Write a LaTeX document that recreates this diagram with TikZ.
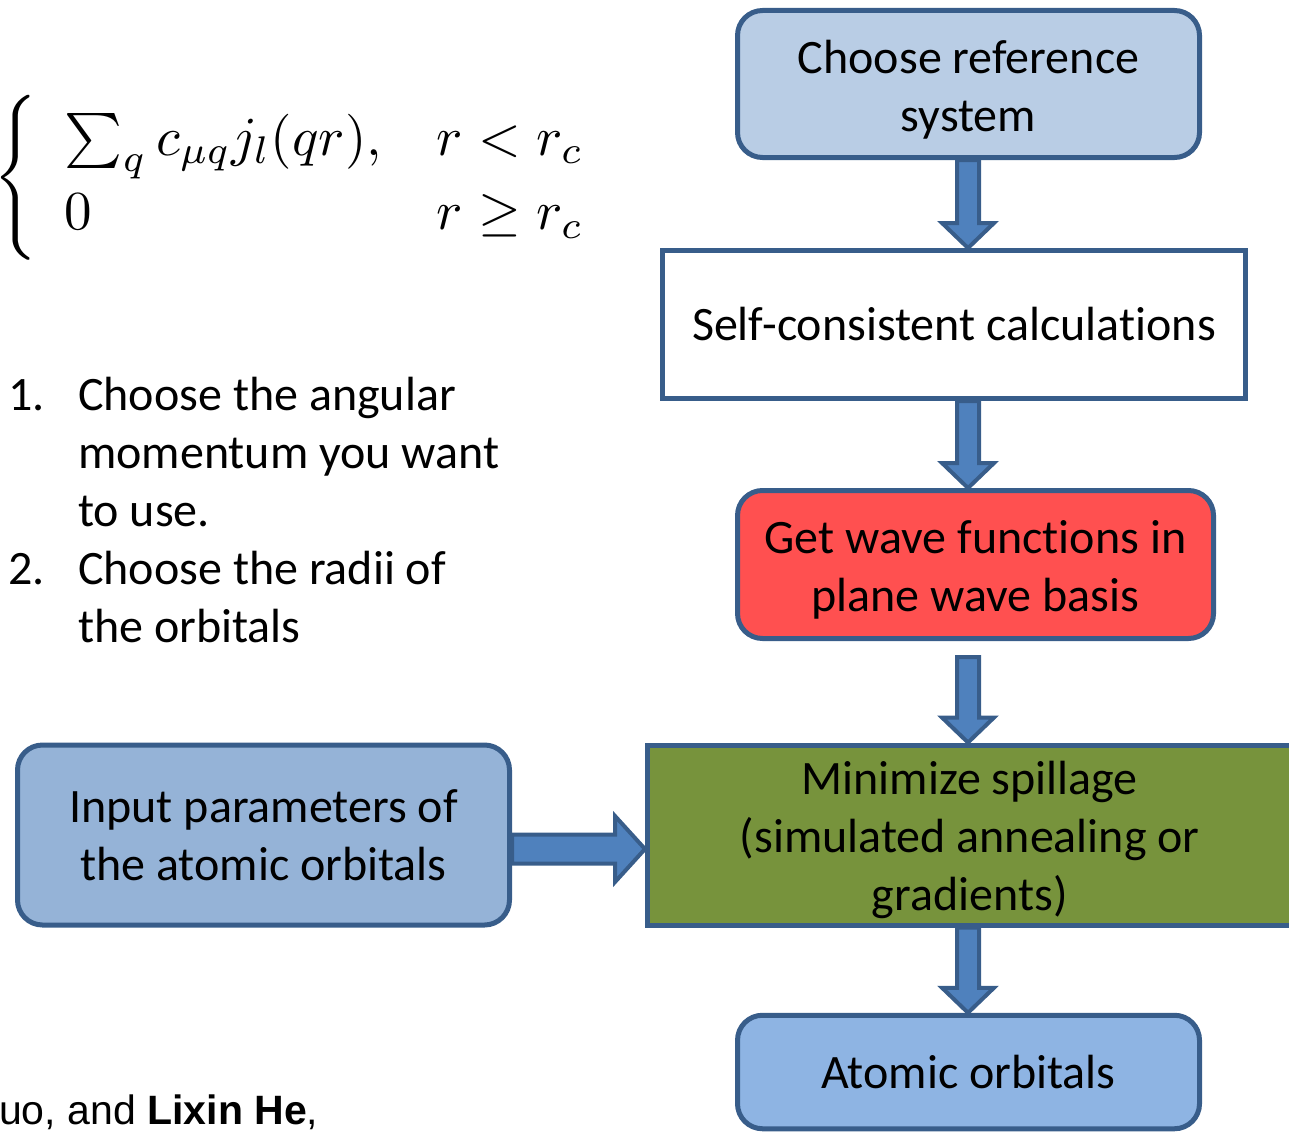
\documentclass[tikz,border=0pt]{standalone}
\definecolor{BleuCadre}{HTML}{385D8A}
\definecolor{BleuFleche}{HTML}{4F81BD}
\definecolor{BleuPale}{HTML}{B9CDE5}
\definecolor{BleuMoyen}{HTML}{95B3D7}
\definecolor{BleuOrbitale}{HTML}{8EB4E3}
\definecolor{RougeVif}{HTML}{FF5050}
\definecolor{VertOlive}{HTML}{77933C}
\usepackage{amsmath}
\usepackage[no-math]{fontspec}
\setmainfont{Carlito}[Ligatures=NoCommon]
\newfontfamily\arialfont{Liberation Sans}
\usetikzlibrary{calc}
\usetikzlibrary{positioning}
\tikzset{
	every node/.style={font=\fontsize{48}{58}\selectfont},
	roundbox/.style={draw=BleuCadre, line width=5pt, rounded corners=25pt, align=center, inner sep=0pt},
	squarebox/.style={draw=BleuCadre, line width=5pt, align=center, inner sep=0pt},
	blockarrow/.style={draw=BleuCadre, fill=BleuFleche, line width=4pt, line join=miter}
}
% fleche verticale large, de #1 vers le haut du noeud #2
\newcommand{\flechebas}[2]{%
	\draw[blockarrow] ($(spine|-#1)+(-11,0)$) -- ($(spine|-#1)+(11,0)$) -- ($(spine|-#2.north)+(11,-25)$) -- ($(spine|-#2.north)+(26,-25)$) -- (spine|-#2.north) -- ($(spine|-#2.north)+(-26,-25)$) -- ($(spine|-#2.north)+(-11,-25)$) -- cycle;}

\begin{document}
\begin{tikzpicture}[x=1pt, y=-1pt]
	\useasboundingbox (0,0) rectangle (1289,1132);
	\clip (0,0) rectangle (1289,1132);
	%
	\coordinate (spine) at (968,0);
	\coordinate (hline) at (0,849);
	%
	\node[anchor=west, inner sep=0pt, font=\normalsize, scale=5.5, transform shape] at (-8,178) (formule) {\renewcommand{\arraystretch}{1.1}$\left\{\begin{array}{ll} \sum_q c_{\mu q} j_l(qr), & r<r_c\\ 0 & r\geq r_c \end{array}\right.$};
	%
	\node[anchor=base west, inner sep=0pt] at (8,410) (etapes) {\begin{tabular}[t]{@{}p{70pt}@{}l@{}}
		1. & Choose the angular\\
		   & momentum you want\\
		   & to use.\\
		2. & Choose the radii of\\
		   & the orbitals
	\end{tabular}};
	%
	\node[anchor=base west, inner sep=0pt, font=\arialfont\fontsize{41}{49}\selectfont] at (-1,1124) (auteurs) {uo, and \textbf{Lixin He},};
	%
	\node[roundbox, fill=BleuPale, minimum width=462pt, minimum height=147pt, text height=102pt] at (968.5,84) (ref) {Choose reference\\system};
	\node[squarebox, fill=white, minimum width=583pt, minimum height=148pt] at (954,324.5) (scf) {Self-consistent calculations};
	\node[roundbox, fill=RougeVif, minimum width=476pt, minimum height=148pt, text height=102pt] at (975.5,564.5) (wave) {Get wave functions in\\plane wave basis};
	\node[squarebox, fill=VertOlive, minimum width=644.5pt, minimum height=180pt, text height=160pt] at (969.75,835) (spill) {Minimize spillage\\(simulated annealing or\\gradients)};
	\node[roundbox, fill=BleuOrbitale, minimum width=462pt, minimum height=113.5pt] at (968.5,1072) (orb) {Atomic orbitals};
	\node[roundbox, fill=BleuMoyen, minimum width=492pt, minimum height=180pt] at (263.5,835) (input) {Input parameters of\\the atomic orbitals};
	%
	\coordinate (sortie) at ($(spine|-wave.south)+(0,16)$);
	\flechebas{ref.south}{scf}
	\flechebas{scf.south}{wave}
	\flechebas{sortie}{spill}
	\flechebas{spill.south}{orb}
	%
	\draw[blockarrow] ($(input.east|-hline)+(0,-14.5)$) -- ($(spill.west|-hline)+(-30,-14.5)$) -- ($(spill.west|-hline)+(-30,-33)$) -- (spill.west|-hline) -- ($(spill.west|-hline)+(-30,33)$) -- ($(spill.west|-hline)+(-30,14.5)$) -- ($(input.east|-hline)+(0,14.5)$) -- cycle;
	%
\end{tikzpicture}
\end{document}
